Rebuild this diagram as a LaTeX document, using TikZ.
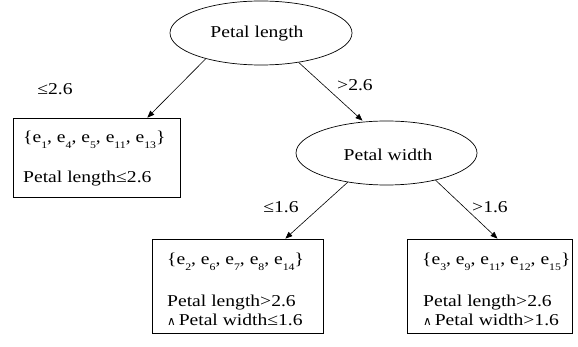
\documentclass[tikz,border=0pt]{standalone}
\usepackage{fontspec}
\setmainfont{Liberation Serif}[FakeStretch=1.18]
\newfontfamily\symfont{DejaVu Sans}
\usetikzlibrary{shapes.geometric,arrows.meta}
\newcommand\sbx[1]{\raisebox{-0.32em}{\fontsize{10}{10}\selectfont #1}}
\newcommand\andsym{{\symfont\fontsize{12}{12}\selectfont ∧}}
\begin{document}
\begin{tikzpicture}[x=1pt,y=-1pt,
  every node/.style={font=\fontsize{16.6}{16.6}\selectfont, inner sep=0pt},
  attr/.style={draw, ellipse, line width=0.7pt},
  leaf/.style={draw, rectangle, line width=0.7pt},
  txt/.style={anchor=base west},
  lbl/.style={anchor=center},
  edge/.style={line width=0.6pt, -{Triangle[length=7pt,width=5.5pt]}}]
\useasboundingbox (0,0) rectangle (578,347);
% attribute nodes
\node[attr, minimum width=182pt, minimum height=64pt] (root) at (261,33) {};
\node at (257,34) (roottxt) {Petal length};
\node[attr, minimum width=181pt, minimum height=64pt] (pw) at (386.5,153) {};
\node at (388,155) (pwtxt) {Petal width};
% leaves
\node[leaf, minimum width=167pt, minimum height=79pt] (b1) at (96.5,157.5) {};
\node[leaf, minimum width=171pt, minimum height=94pt] (b2) at (237.5,286) {};
\node[leaf, minimum width=165pt, minimum height=94pt] (b3) at (489.5,286) {};
% leaf texts
\node[txt] (s1) at (23,143) {\{e\sbx{1}, e\sbx{4}, e\sbx{5}, e\sbx{11}, e\sbx{13}\}};
\node[txt] (c1) at (23,183) {Petal length≤2.6};
\node[txt] (s2) at (167,265) {\{e\sbx{2}, e\sbx{6}, e\sbx{7}, e\sbx{8}, e\sbx{14}\}};
\node[txt] (c2a) at (167,306) {Petal length>2.6};
\node[txt] (c2b) at (167,325) {\andsym\,Petal width≤1.6};
\node[txt] (s3) at (422,265) {\{e\sbx{3}, e\sbx{9}, e\sbx{11}, e\sbx{12}, e\sbx{15}\}};
\node[txt] (c3a) at (423,306) {Petal length>2.6};
\node[txt] (c3b) at (423,325) {\andsym\,Petal width>1.6};
% edges
\draw[edge] (root.205) -- ([xshift=-33pt]b1.north east);
\draw[edge] (root.322) -- ([xshift=-24pt]pw.north);
\draw[edge] (pw.217) -- ([xshift=-38pt]b2.north east);
\draw[edge] (pw.331) -- ([xshift=8pt]b3.north);
% edge labels
\node[lbl] (l1) at (55,89) {≤2.6};
\node[lbl] (l2) at (355,85) {>2.6};
\node[lbl] (l3) at (281,207) {≤1.6};
\node[lbl] (l4) at (490,207) {>1.6};
\end{tikzpicture}
\end{document}
